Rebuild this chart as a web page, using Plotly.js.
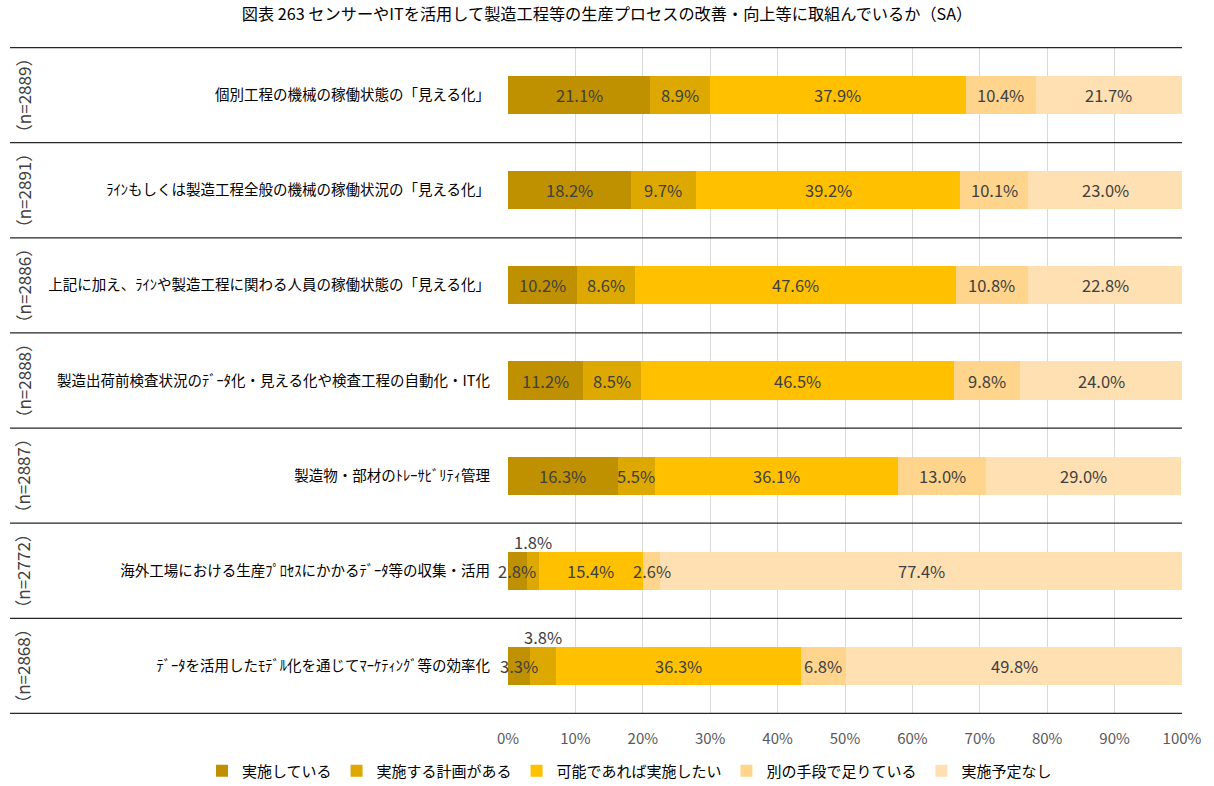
<!DOCTYPE html>
<html>
<head>
<meta charset="utf-8">
<script src="https://cdn.plot.ly/plotly-3.0.1.min.js"></script>
<style>html,body{margin:0;padding:0;background:#fff;}#chart{width:1214px;height:786px;}</style>
</head>
<body>
<div id="chart"></div>
<script>
const categories = [
  "個別工程の機械の稼働状態の「見える化」",
  "ﾗｲﾝもしくは製造工程全般の機械の稼働状況の「見える化」",
  "上記に加え、ﾗｲﾝや製造工程に関わる人員の稼働状態の「見える化」",
  "製造出荷前検査状況のﾃﾞｰﾀ化・見える化や検査工程の自動化・IT化",
  "製造物・部材のﾄﾚｰｻﾋﾞﾘﾃｨ管理",
  "海外工場における生産ﾌﾟﾛｾｽにかかるﾃﾞｰﾀ等の収集・活用",
  "ﾃﾞｰﾀを活用したﾓﾃﾞﾙ化を通じてﾏｰｹﾃｨﾝｸﾞ等の効率化"
];
const sampleSizes = ["（n=2889）", "（n=2891）", "（n=2886）", "（n=2888）", "（n=2887）", "（n=2772）", "（n=2868）"];
const seriesNames = ["実施している", "実施する計画がある", "可能であれば実施したい", "別の手段で足りている", "実施予定なし"];
const jisshi     = [21.1, 18.2, 10.2, 11.2, 16.3, 2.8, 3.3];
const keikaku    = [8.9, 9.7, 8.6, 8.5, 5.5, 1.8, 3.8];
const kanou      = [37.9, 39.2, 47.6, 46.5, 36.1, 15.4, 36.3];
const betsu      = [10.4, 10.1, 10.8, 9.8, 13.0, 2.6, 6.8];
const yoteinashi = [21.7, 23.0, 22.8, 24.0, 29.0, 77.4, 49.8];
const xTicks = [0, 10, 20, 30, 40, 50, 60, 70, 80, 90, 100];

const allSeries = [jisshi, keikaku, kanou, betsu, yoteinashi];
const colors = ["#BF9000", "#DDA800", "#FFC000", "#FFD48C", "#FFE0B3"];
const FONT = '"Noto Sans CJK JP", "Noto Sans", sans-serif';

const PL = 508, PW = 674, PT = 47, PH = 667;
const px2x = p => (p - PL) / PW;
const px2y = p => (PT + PH - p) / PH;

const traces = allSeries.map((vals, j) => ({
  type: 'bar',
  orientation: 'h',
  name: seriesNames[j],
  x: vals,
  y: categories,
  width: 0.4,
  marker: {color: colors[j], line: {width: 0}},
  hoverinfo: 'x+name'
}));

const annotations = [];
categories.forEach((cat, i) => {
  let cum = 0;
  allSeries.forEach((vals, j) => {
    const v = vals[i];
    const above = (j === 1 && v < 4);
    annotations.push({
      x: cum + v / 2, y: cat, xref: 'x', yref: 'y',
      text: v.toFixed(1) + '%', showarrow: false,
      yshift: above ? 29 : 0,
      font: {family: FONT, size: 16.5, color: '#404040'}
    });
    cum += v;
  });
  annotations.push({
    x: px2x(23), xref: 'paper', y: cat, yref: 'y',
    text: sampleSizes[i], textangle: -90, showarrow: false,
    xanchor: 'center', yanchor: 'middle',
    font: {family: FONT, size: 17, color: '#404040'}
  });
});

const shapes = [];
for (let k = 0; k <= categories.length; k++) {
  shapes.push({
    type: 'line', xref: 'paper', yref: 'y',
    x0: px2x(10), x1: 1, y0: k - 0.5, y1: k - 0.5,
    line: {color: '#262626', width: 1.2}
  });
}

const layout = {
  width: 1214, height: 786,
  margin: {l: PL, r: 1214 - PL - PW, t: PT, b: 786 - PT - PH, autoexpand: false},
  paper_bgcolor: '#fff', plot_bgcolor: '#fff',
  barmode: 'stack',
  title: {text: '図表 263 センサーやITを活用して製造工程等の生産プロセスの改善・向上等に取組んでいるか（SA）',
          x: 0.5, xanchor: 'center', xref: 'container', y: 0.982, yanchor: 'middle',
          font: {family: FONT, size: 16.2, color: '#000'}},
  xaxis: {
    range: [0, 100], tickvals: xTicks, ticktext: xTicks.map(t => t + '%'),
    showgrid: true, gridcolor: '#D9D9D9', gridwidth: 1,
    zeroline: false, showline: false, ticks: '',
    tickfont: {family: FONT, size: 15, color: '#595959'},
    ticklabelstandoff: 14, fixedrange: true
  },
  yaxis: {
    autorange: 'reversed', showgrid: false, zeroline: false, showline: false, ticks: '',
    tickfont: {family: FONT, size: 14.5, color: '#000'},
    ticklabelstandoff: 17, fixedrange: true
  },
  legend: {
    orientation: 'h', xref: 'paper', x: px2x(202), xanchor: 'left',
    yref: 'paper', y: px2y(771), yanchor: 'middle',
    font: {family: FONT, size: 15, color: '#000'}, traceorder: 'normal',
    itemclick: false
  },
  annotations: annotations,
  shapes: shapes,
  showlegend: true
};

Plotly.newPlot('chart', traces, layout, {displayModeBar: false, staticPlot: true});
</script>
</body>
</html>
